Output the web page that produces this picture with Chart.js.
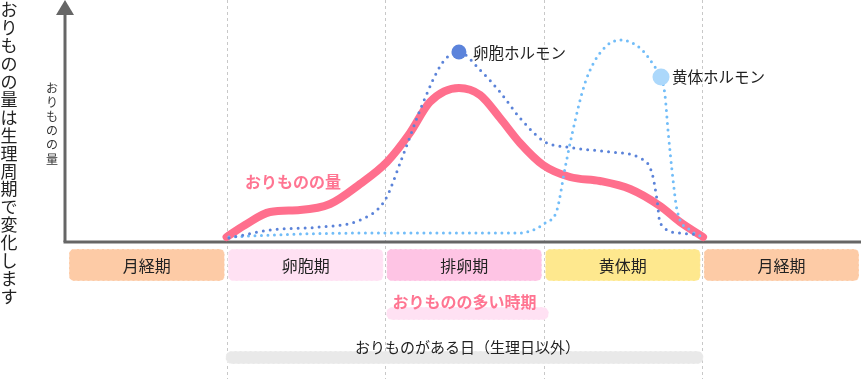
<!DOCTYPE html>
<html><head><meta charset="utf-8">
<script src="https://cdn.jsdelivr.net/npm/chart.js@4/dist/chart.umd.min.js"></script>
<style>html,body{margin:0;padding:0;background:#fff;overflow:hidden}canvas{display:block}</style>
</head><body>
<canvas id="c" width="861" height="379"></canvas>
<script>
// ---- data (x: cycle position in phase units, y: relative amount) ----
const phases = ['月経期','卵胞期','排卵期','黄体期','月経期'];
const phaseColors = ['#fdcba6','#ffe1f3','#fec4e4','#fee88e','#fdcba6'];
const boundaries = [1,2,3,4];

const flowX = [1.00,1.116,1.274,1.463,1.652,1.841,2.011,2.156,2.282,2.465,2.598,2.724,2.850,2.995,3.165,3.354,3.544,3.733,3.859,4.004];
const flowY = [1.5,7.5,14,15,18,28,39,53.5,69,76,72.5,61,48.5,37.5,31.5,29.5,25.5,17,9,1.5];

const estX = [1.015,1.274,1.589,1.841,1.999,2.106,2.238,2.364,2.465,2.598,2.724,2.850,3.008,3.146,3.417,3.607,3.682,3.714,3.733,3.859,3.985];
const estY = [1,5,6.5,10,20,41,68.5,89,94,85,74,61,49,46.5,44,41,33.5,20,8.5,3.5,2.5];

const progX = [1.015,1.463,2.005,2.850,2.932,3.008,3.083,3.134,3.184,3.260,3.354,3.480,3.606,3.701,3.739,3.764,3.783,3.815,3.840,3.922,3.985];
const progY = [1.5,3,3.5,3.5,5,8.5,15,36,55,78.5,93.5,100,96,86.5,81.5,72.5,55,30,15,5,2];

const estMarker = [2.465, 94];
const progMarker = [3.739, 81.5];

const highFlowSpan = [2, 3];
const dischargeSpan = [1, 4];

const seriesLabels = ['おりものの量','卵胞ホルモン','黄体ホルモン'];
const yAxisTitle = 'おりものの量';
const sideTitle = 'おりものの量は生理周期で変化します';
const highFlowLabel = 'おりものの多い時期';
const dischargeLabel = 'おりものがある日（生理日以外）';

// ---- chart ----
const FONT = '"Noto Sans CJK JP","Noto Sans",sans-serif';
const pts = (xs, ys) => xs.map((v,i)=>({x:v,y:ys[i]}));

function rr(ctx,x,y,w,h,r){ctx.beginPath();ctx.roundRect(x,y,w,h,r);}

function vtext(ctx, txt, cx, top, step, font, color){
  ctx.font = font; ctx.fillStyle = color; ctx.textAlign='center'; ctx.textBaseline='middle';
  [...txt].forEach((ch,i)=>ctx.fillText(ch, cx, top + i*step));
}

const deco = {
  id:'deco',
  beforeDatasetsDraw(chart){
    const {ctx, chartArea, scales:{x,y}} = chart;
    const W = chart.width, H = chart.height;
    const axisY = y.getPixelForValue(0) + 2;
    const axX = chartArea.left - 3;
    ctx.save();
    // dashed vertical guides
    ctx.strokeStyle='#c8c8c8'; ctx.lineWidth=1; ctx.setLineDash([3,3]);
    boundaries.forEach(b=>{
      const px = Math.round(x.getPixelForValue(b)) + 0.5;
      ctx.beginPath(); ctx.moveTo(px,0); ctx.lineTo(px,H); ctx.stroke();
    });
    // phase boxes
    phases.forEach((p,i)=>{
      const l = x.getPixelForValue(i) + (i===0?1:1.5);
      const r = Math.min(x.getPixelForValue(i+1) - 2, W-1);
      rr(ctx, l, axisY+7, r-l, 32, 5);
      ctx.fillStyle = phaseColors[i]; ctx.fill();
      ctx.setLineDash([3,2]); ctx.strokeStyle='rgba(255,255,255,0.6)'; ctx.lineWidth=1; ctx.stroke();
      ctx.setLineDash([]);
      ctx.font = '16px '+FONT; ctx.fillStyle='#222'; ctx.textAlign='center'; ctx.textBaseline='middle';
      ctx.fillText(p, (l+r)/2, axisY+24);
    });
    // high flow band
    {
      const l = x.getPixelForValue(highFlowSpan[0]) + 1, r = x.getPixelForValue(highFlowSpan[1]) + 5;
      rr(ctx, l, axisY+65, r-l, 13, 6);
      ctx.fillStyle='#ffe1f3'; ctx.fill();
      ctx.setLineDash([3,2]); ctx.strokeStyle='rgba(255,255,255,0.7)'; ctx.stroke(); ctx.setLineDash([]);
      ctx.font = 'bold 16px '+FONT; ctx.fillStyle='#ff7592'; ctx.textAlign='center'; ctx.textBaseline='middle';
      ctx.fillText(highFlowLabel, (x.getPixelForValue(highFlowSpan[0])+x.getPixelForValue(highFlowSpan[1]))/2, axisY+60);
    }
    // discharge days band
    {
      const l = x.getPixelForValue(dischargeSpan[0]) - 1, r = x.getPixelForValue(dischargeSpan[1]) + 1;
      rr(ctx, l, axisY+109, r-l, 13, 6);
      ctx.fillStyle='#e9e9e9'; ctx.fill();
      ctx.setLineDash([3,2]); ctx.strokeStyle='rgba(255,255,255,0.7)'; ctx.stroke(); ctx.setLineDash([]);
      ctx.font = '15px '+FONT; ctx.fillStyle='#222'; ctx.textAlign='center'; ctx.textBaseline='middle';
      ctx.fillText(dischargeLabel, (l+r)/2 + 3, axisY+105);
    }
    // axes
    ctx.strokeStyle='#666'; ctx.lineWidth=3;
    ctx.beginPath(); ctx.moveTo(axX-1.5, axisY); ctx.lineTo(W, axisY); ctx.stroke();
    ctx.beginPath(); ctx.moveTo(axX, axisY); ctx.lineTo(axX, 14); ctx.stroke();
    ctx.fillStyle='#666';
    ctx.beginPath(); ctx.moveTo(axX,0); ctx.lineTo(axX-9,15); ctx.lineTo(axX+9,15); ctx.closePath(); ctx.fill();
    // axis titles
    vtext(ctx, yAxisTitle, axX-13, 88, 14.2, '12px '+FONT, '#333');
    vtext(ctx, sideTitle, 9, 10, 17.9, '17px '+FONT, '#222');
    // series label
    ctx.font = 'bold 16px '+FONT; ctx.fillStyle='#ff7592'; ctx.textAlign='left'; ctx.textBaseline='middle';
    ctx.fillText(seriesLabels[0], 245, 182);
    ctx.restore();
  },
  afterDatasetsDraw(chart){
    const {ctx, scales:{x,y}} = chart;
    ctx.save();
    ctx.font = '15.5px '+FONT; ctx.fillStyle='#222'; ctx.textAlign='left'; ctx.textBaseline='middle';
    ctx.fillText(seriesLabels[1], x.getPixelForValue(estMarker[0]) + 14, y.getPixelForValue(estMarker[1]) + 1);
    ctx.fillText(seriesLabels[2], x.getPixelForValue(progMarker[0]) + 11, y.getPixelForValue(progMarker[1]));
    ctx.restore();
  }
};

new Chart(document.getElementById('c'), {
  type:'line',
  data:{ datasets:[
    {label:seriesLabels[1]+'点', data:[{x:estMarker[0],y:estMarker[1]}], showLine:false, pointRadius:7.5, pointBackgroundColor:'#5b83db', pointBorderWidth:0, order:0},
    {label:seriesLabels[2]+'点', data:[{x:progMarker[0],y:progMarker[1]}], showLine:false, pointRadius:8.5, pointBackgroundColor:'#acd8fb', pointBorderWidth:0, order:0},
    {label:seriesLabels[1], data:pts(estX,estY), borderColor:'#5b83d9', borderWidth:3, borderDash:[0,7], borderCapStyle:'round', pointRadius:0, cubicInterpolationMode:'monotone', order:1},
    {label:seriesLabels[2], data:pts(progX,progY), borderColor:'#72bdf8', borderWidth:3, borderDash:[0,6.5], borderCapStyle:'round', pointRadius:0, cubicInterpolationMode:'monotone', order:2},
    {label:seriesLabels[0], data:pts(flowX,flowY), borderColor:'#ff6f8d', borderWidth:8, borderCapStyle:'round', borderJoinStyle:'round', pointRadius:0, cubicInterpolationMode:'monotone', order:3}
  ]},
  options:{
    responsive:false, animation:false, events:[],
    layout:{autoPadding:false, padding:{left:68,right:0,top:40,bottom:139}},
    scales:{
      x:{type:'linear', min:0, max:5, display:false},
      y:{type:'linear', min:0, max:100, display:false}
    },
    datasets:{line:{clip:false}},
    plugins:{legend:{display:false}, tooltip:{enabled:false}}
  },
  plugins:[deco]
});
</script>
</body></html>
